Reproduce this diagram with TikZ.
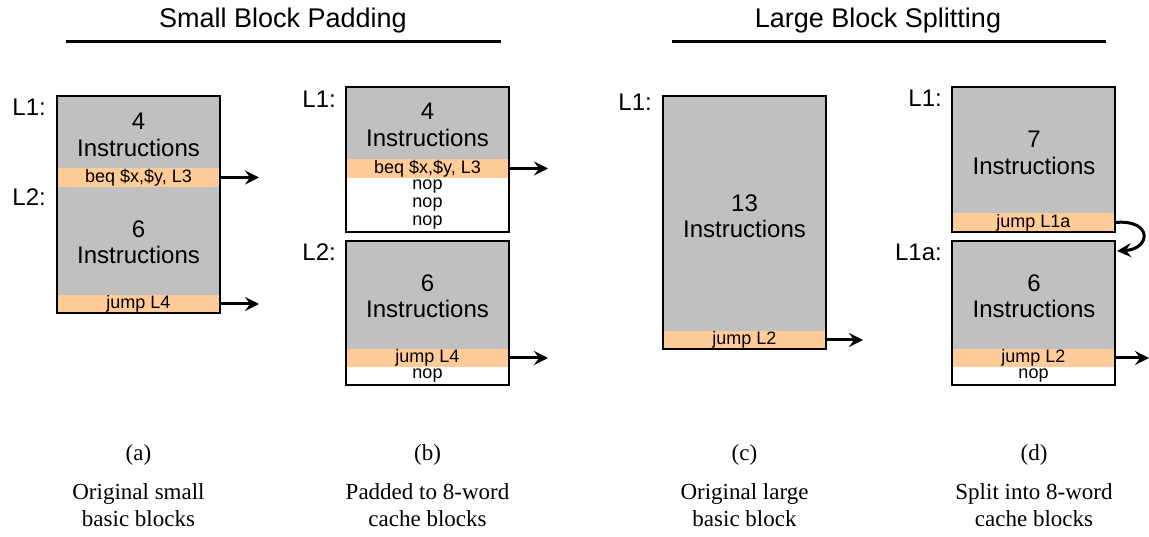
\documentclass[tikz,border=0pt]{standalone}
\usepackage{fontspec}
\setmainfont{Liberation Serif}
\setsansfont{Liberation Sans}
\usetikzlibrary{arrows.meta}
\definecolor{blockgray}{RGB}{192,192,192}
\definecolor{peach}{RGB}{255,204,153}
\tikzset{
  body/.style={fill=blockgray, draw=none, inner sep=0pt, outer sep=0pt, anchor=north west, minimum width=163},
  stripe/.style={fill=peach, draw=none, inner sep=0pt, outer sep=0pt, anchor=north west, minimum width=163,
    font=\sffamily\fontsize{18}{18}\selectfont},
  padrow/.style={fill=white, draw=none, inner sep=0pt, outer sep=0pt, anchor=north west, minimum width=163,
    font=\sffamily\fontsize{18}{18}\selectfont},
  outline/.style={draw=black, line width=2.5pt},
  count/.style={align=center, inner sep=0pt, font=\sffamily\fontsize{24}{26.5}\selectfont},
  lbl/.style={anchor=base east, inner sep=0pt, font=\sffamily\fontsize{24}{26}\selectfont},
  title/.style={inner sep=0pt, anchor=base, font=\sffamily\fontsize{27}{30}\selectfont},
  rule/.style={line width=3pt},
  caption/.style={align=center, inner sep=0pt, font=\rmfamily\fontsize{23}{27}\selectfont},
  branch/.style={line width=3pt, -{Stealth[length=14pt, width=14pt, inset=5pt]}}
}
\begin{document}
\begin{tikzpicture}[x=1pt, y=-1pt]
\useasboundingbox (0,0) rectangle (1149,537);

% ---------- headings ----------
\node[title] (t1) at (283,28) {Small Block Padding};
\coordinate (r1a) at (66,42); \coordinate (r1b) at (501,42);
\draw[rule] (r1a) -- (r1b);
\node[title] (t2) at (878,28) {Large Block Splitting};
\coordinate (r2a) at (672,42); \coordinate (r2b) at (1106,42);
\draw[rule] (r2a) -- (r2b);

% ---------- (a) original small basic blocks ----------
\node[body, minimum height=217] (a) at (57,96) {};
\node[stripe, minimum height=19] (abeq) at (57,168) {beq \$x,\$y, L3};
\node[stripe, minimum height=18] (ajmp) at (57,295) {jump L4};
\draw[outline] (a.north west) rectangle (a.south east);
\node[count] (a4) at (138.5,135) {4\\Instructions};
\node[count] (a6) at (138.5,242) {6\\Instructions};
\node[lbl] (aL1) at (46,116) {L1:};
\node[lbl] (aL2) at (46,206) {L2:};
\coordinate (aout1) at (259,177.5);
\coordinate (aout2) at (259,304);
\draw[branch] (abeq.east) -- (aout1);
\draw[branch] (ajmp.east) -- (aout2);

% ---------- (b) padded to 8-word cache blocks ----------
\node[body, minimum height=145] (b1) at (346,87) {};
\node[stripe, minimum height=19] (bbeq) at (346,159) {beq \$x,\$y, L3};
\node[padrow, minimum height=18] (bn1) at (346,178) {nop};
\node[padrow, minimum height=18] (bn2) at (346,196) {nop};
\node[padrow, minimum height=18] (bn3) at (346,214) {nop};
\draw[outline] (b1.north west) rectangle (b1.south east);
\node[count] (b4) at (427.5,125) {4\\Instructions};
\node[lbl] (bL1) at (336,108) {L1:};

\node[body, minimum height=144] (b2) at (346,241) {};
\node[stripe, minimum height=18] (bjmp) at (346,349) {jump L4};
\node[padrow, minimum height=18] (bn4) at (346,367) {nop};
\draw[outline] (b2.north west) rectangle (b2.south east);
\node[count] (b6) at (427.5,296) {6\\Instructions};
\node[lbl] (bL2) at (336,261) {L2:};
\coordinate (bout1) at (548,168.5);
\coordinate (bout2) at (548,358);
\draw[branch] (bbeq.east) -- (bout1);
\draw[branch] (bjmp.east) -- (bout2);

% ---------- (c) original large basic block ----------
\node[body, minimum height=253] (c) at (663,96) {};
\node[stripe, minimum height=18] (cjmp) at (663,331) {jump L2};
\draw[outline] (c.north west) rectangle (c.south east);
\node[count] (c13) at (744.5,216) {13\\Instructions};
\node[lbl] (cL1) at (652,111) {L1:};
\coordinate (cout) at (863,340);
\draw[branch] (cjmp.east) -- (cout);

% ---------- (d) split into 8-word cache blocks ----------
\node[body, minimum height=145] (d1) at (952,87) {};
\node[stripe, minimum height=19] (djmp1) at (952,213) {jump L1a};
\draw[outline] (d1.north west) rectangle (d1.south east);
\node[count] (d7) at (1034,153) {7\\Instructions};
\node[lbl] (dL1) at (942,107) {L1:};

\node[body, minimum height=144] (d2) at (952,241) {};
\node[stripe, minimum height=18] (djmp2) at (952,349) {jump L2};
\node[padrow, minimum height=18] (dnop) at (952,367) {nop};
\draw[outline] (d2.north west) rectangle (d2.south east);
\node[count] (d6) at (1034,296) {6\\Instructions};
\node[lbl] (dL1a) at (942,261) {L1a:};
\coordinate (din) at (1117,251);
\draw[branch] (djmp1.east) .. controls (1153,219) and (1151,249) .. (din);
\coordinate (dout) at (1149,358);
\draw[branch] (djmp2.east) -- (dout);

% ---------- captions ----------
\node[caption] (capa) at (138.5,455) {(a)};
\node[caption] (capb) at (427.5,455) {(b)};
\node[caption] (capc) at (744.5,455) {(c)};
\node[caption] (capd) at (1034,455) {(d)};
\node[caption] (txa) at (138.5,505) {Original small\\basic blocks};
\node[caption] (txb) at (427.5,505) {Padded to 8-word\\cache blocks};
\node[caption] (txc) at (744.5,505) {Original large\\basic block};
\node[caption] (txd) at (1034,505) {Split into 8-word\\cache blocks};
\end{tikzpicture}
\end{document}
